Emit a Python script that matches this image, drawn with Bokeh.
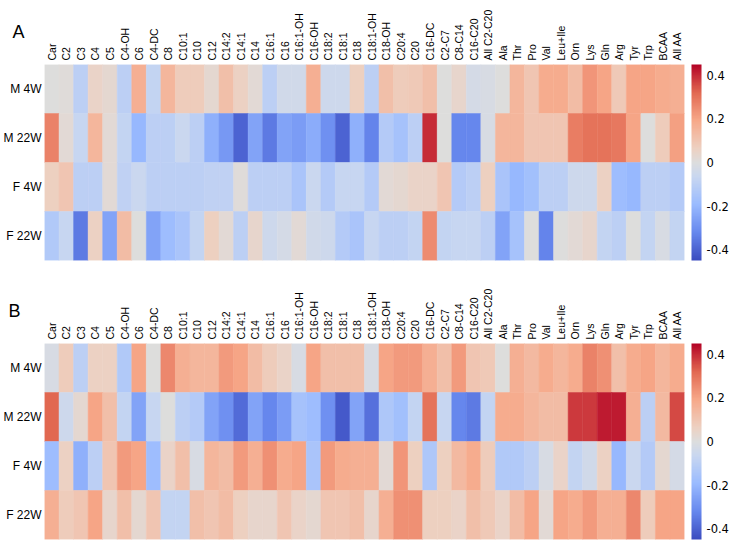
import numpy as np
import pandas as pd
from bokeh.plotting import figure
from bokeh.models import (LinearColorMapper, ColorBar, FixedTicker,
                          ColumnDataSource, FactorRange)
from bokeh.core.properties import value
from bokeh.layouts import column
from bokeh.transform import transform
from bokeh.embed import file_html
from bokeh.resources import INLINE

cols = ["Car", "C2", "C3", "C4", "C5", "C4-OH", "C6", "C4-DC", "C8", "C10:1",
        "C10", "C12", "C14:2", "C14:1", "C14", "C16:1", "C16", "C16:1-OH",
        "C16-OH", "C18:2", "C18:1", "C18", "C18:1-OH", "C18-OH", "C20:4", "C20",
        "C16-DC", "C2-C7", "C8-C14", "C16-C20", "All C2-C20", "Ala", "Thr", "Pro",
        "Val", "Leu+Ile", "Orn", "Lys", "Gln", "Arg", "Tyr", "Trp", "BCAA", "All AA"]
rows = ["M 4W", "M 22W", "F 4W", "F 22W"]

a_m4w = [0.00, 0.01, -0.10, 0.05, 0.03, -0.10, 0.17, -0.08, 0.15, 0.08, 0.08, 0.03, 0.12, 0.06,
         0.02, -0.10, -0.04, -0.04, 0.17, -0.05, -0.05, 0.07, -0.10, 0.12, 0.08, 0.09, 0.12, 0.00, 0.04, -0.03, -0.02,
         0.00, 0.15, 0.10, 0.18, 0.18, 0.13, 0.23, 0.20, 0.09, 0.20, 0.20, 0.18, 0.17]
a_m22w = [0.27, 0.02, -0.07, 0.15, 0.02, -0.08, -0.20, -0.10, -0.10, -0.06, -0.10, -0.22, -0.28, -0.40,
          -0.25, -0.35, -0.25, -0.27, -0.23, -0.30, -0.40, -0.22, -0.33, -0.12, -0.16, -0.10, 0.40, 0.00, -0.32, -0.32, -0.02,
          0.15, 0.15, 0.10, 0.10, 0.10, 0.28, 0.30, 0.30, 0.29, 0.20, 0.00, 0.08, 0.21]
a_f4w = [0.07, 0.10, -0.10, -0.10, 0.02, -0.09, -0.06, -0.10, -0.10, -0.10, -0.10, -0.09, -0.09, 0.01,
         -0.10, -0.10, -0.10, -0.15, -0.06, -0.12, -0.07, -0.07, -0.12, 0.02, 0.03, 0.05, 0.05, 0.10, -0.12, -0.10, 0.07,
         -0.15, -0.20, -0.17, -0.10, -0.10, -0.05, -0.05, 0.06, -0.18, -0.20, -0.10, -0.10, -0.12]
a_f22w = [-0.13, -0.07, -0.35, 0.06, -0.25, 0.13, 0.00, -0.25, -0.18, -0.15, -0.08, 0.07, 0.02, -0.10,
          0.04, -0.05, -0.03, 0.02, -0.04, -0.05, -0.12, -0.15, -0.07, -0.10, -0.10, -0.08, 0.25, -0.08, -0.07, -0.07, -0.10,
          -0.25, -0.16, 0.00, -0.33, 0.00, 0.02, 0.04, -0.08, -0.10, 0.00, -0.08, -0.02, -0.08]

b_m4w = [-0.02, 0.08, -0.10, 0.06, 0.06, -0.13, 0.20, 0.00, 0.26, 0.17, 0.15, 0.15, 0.22, 0.20,
         0.13, 0.08, 0.05, -0.02, 0.20, 0.12, 0.12, 0.12, -0.02, 0.20, 0.22, 0.22, 0.17, 0.12, 0.22, 0.10, 0.09,
         0.00, 0.17, 0.14, 0.18, 0.15, 0.18, 0.27, 0.24, 0.12, 0.18, 0.20, 0.15, 0.18]
b_m22w = [0.32, -0.05, 0.03, 0.20, 0.12, -0.08, -0.25, -0.07, 0.00, -0.10, -0.12, -0.25, -0.30, -0.38,
          -0.25, -0.32, -0.27, -0.16, -0.18, -0.30, -0.42, -0.25, -0.37, -0.14, -0.17, -0.08, 0.30, -0.07, -0.32, -0.35, -0.08,
          0.18, 0.18, 0.15, 0.13, 0.13, 0.38, 0.38, 0.42, 0.42, 0.17, -0.10, 0.14, 0.36]
b_f4w = [-0.18, 0.06, -0.22, -0.10, 0.10, 0.22, 0.20, -0.18, 0.05, 0.12, -0.02, 0.15, 0.13, 0.22,
         0.17, 0.24, 0.18, 0.20, -0.15, 0.22, 0.18, 0.17, 0.17, 0.02, 0.23, 0.07, -0.14, 0.07, 0.14, 0.18, 0.08,
         -0.13, -0.13, -0.10, -0.02, 0.05, -0.08, -0.04, 0.06, -0.20, -0.06, -0.12, 0.03, -0.03]
b_f22w = [0.17, 0.08, 0.10, 0.20, 0.04, 0.12, 0.03, 0.10, -0.08, -0.08, 0.12, 0.10, 0.13, 0.07,
          0.04, 0.04, 0.10, 0.05, 0.03, 0.10, 0.10, 0.12, 0.04, 0.17, 0.24, 0.24, 0.07, 0.07, 0.05, 0.12, 0.09,
          0.05, 0.13, 0.20, 0.02, 0.20, 0.18, 0.22, 0.17, 0.17, 0.26, 0.08, 0.20, 0.20]

cbar_ticks = [-0.4, -0.2, 0.0, 0.2, 0.4]
cbar_labels = ["-0.4", "-0.2", "0", "0.2", "0.4"]

# coolwarm-like diverging palette
anchors = [(59, 76, 192), (103, 136, 238), (154, 187, 255), (201, 215, 240), (221, 221, 221),
           (237, 209, 194), (247, 168, 137), (226, 105, 82), (180, 4, 38)]
apos = [0, 1/7, 2/7, 3/7, 0.5, 4/7, 5/7, 6/7, 1]
t = np.linspace(0, 1, 256)
rgb = np.stack([np.interp(t, apos, [a[i] for a in anchors]) for i in range(3)], axis=1)
palette = ["#%02x%02x%02x" % tuple(int(round(c)) for c in r) for r in rgb]
mapper = LinearColorMapper(palette=palette, low=-0.45, high=0.45)

LABEL_FONT = "Liberation Sans"


def panel(letter, series, height, top, bottom, letter_x):
    df = pd.DataFrame({"col": [c for _ in rows for c in cols],
                       "row": [r for r in rows for _ in cols],
                       "v": [v for s in series for v in s]})
    src = ColumnDataSource(df)
    p = figure(width=731, height=height, x_range=FactorRange(*cols),
               y_range=FactorRange(*rows[::-1]), x_axis_location="above",
               output_backend="svg", toolbar_location=None,
               min_border_left=44, min_border_right=46,
               min_border_top=top, min_border_bottom=bottom)
    p.rect(x="col", y="row", width=1, height=1, source=src,
           fill_color=transform("v", mapper), line_color=transform("v", mapper),
           line_width=0.5)
    p.grid.grid_line_color = None
    p.outline_line_color = None
    p.axis.axis_line_color = None
    p.axis.major_tick_line_color = None
    p.axis.minor_tick_line_color = None
    p.axis.major_tick_out = 0
    p.axis.major_tick_in = 0
    p.axis.minor_tick_out = 0
    p.axis.major_label_text_font = LABEL_FONT
    p.axis.major_label_text_color = "#000000"
    p.xaxis.major_label_orientation = np.pi / 2
    p.xaxis.major_label_text_font_size = "10.5px"
    p.xaxis.major_label_standoff = 4
    p.yaxis.major_label_text_font_size = "12px"
    p.yaxis.major_label_standoff = 3
    cb = ColorBar(color_mapper=mapper, width=10, height=196, padding=0, margin=0,
                  location=(7, 0),
                  ticker=FixedTicker(ticks=cbar_ticks),
                  major_label_overrides={k: l for k, l in zip(cbar_ticks, cbar_labels)},
                  major_tick_line_color=None, minor_tick_line_color=None,
                  major_tick_in=0, major_tick_out=0,
                  bar_line_color=None, border_line_color=None,
                  label_standoff=5, major_label_text_font="DejaVu Sans",
                  major_label_text_font_size="11.5px", major_label_text_color="#000000")
    p.add_layout(cb, "right")
    # panel letter, drawn above the top-left corner of the heatmap
    p.text(x=[letter_x], y=[len(rows) + 0.67], text=[letter], level="overlay",
           text_font=value(LABEL_FONT), text_font_size="18px",
           text_baseline="alphabetic", text_color="#000000")
    return p


pa = panel("A", [a_m4w, a_m22w, a_f4w, a_f22w], 274, 64, 14, -2.2)
pb = panel("B", [b_m4w, b_m22w, b_f4w, b_f22w], 266, 69, 1, -2.47)
layout = column(pa, pb, spacing=0)
open("out.html", "w").write(file_html(layout, INLINE))
